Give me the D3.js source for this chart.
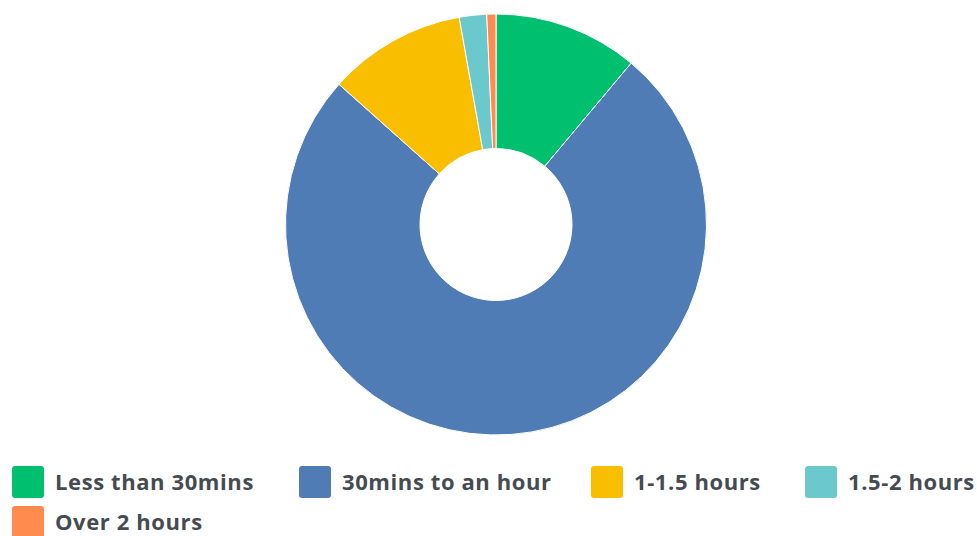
<!DOCTYPE html>
<html><head><meta charset="utf-8">
<script src="https://cdn.jsdelivr.net/npm/d3@7"></script>
<style>html,body{margin:0;padding:0;background:#fff;}svg{display:block;}</style>
</head><body>
<svg id="chart" width="977" height="536"></svg>
<script>
const categories = ["Less than 30mins","30mins to an hour","1-1.5 hours","1.5-2 hours","Over 2 hours"];
const values = [11.1, 75.5, 10.6, 2.1, 0.7];
const colors = ["#00BF6F","#507CB6","#F9BE00","#6BC8CD","#FF8B4F"];

const svg = d3.select("#chart");
const cx = 496, cy = 224.5, rOuter = 210.5, rInner = 76;
const pie = d3.pie().sort(null).value(d => d.v);
const arc = d3.arc().innerRadius(rInner).outerRadius(rOuter);
const data = categories.map((c,i)=>({c, v: values[i], col: colors[i]}));
svg.append("g").attr("transform",`translate(${cx},${cy})`)
  .selectAll("path").data(pie(data)).join("path")
  .attr("d", arc).attr("fill", d=>d.data.col)
  .attr("stroke","#fff").attr("stroke-width",1);

// legend
const legendX = [12, 299, 591, 805, 12];
const legendRow = [0,0,0,0,1];
const lg = svg.append("g");
data.forEach((d,i)=>{
  const y0 = 466 + legendRow[i]*40;
  lg.append("rect").attr("x",legendX[i]).attr("y",y0).attr("width",32).attr("height",32)
    .attr("rx",3).attr("fill",d.col);
  lg.append("text").attr("x",legendX[i]+43).attr("y",y0+24)
    .attr("font-family","'Open Sans', sans-serif").attr("font-weight",700)
    .attr("letter-spacing","0.6px")
    .attr("font-size",22).attr("fill","#454b51").text(d.c);
});
</script>
</body></html>
